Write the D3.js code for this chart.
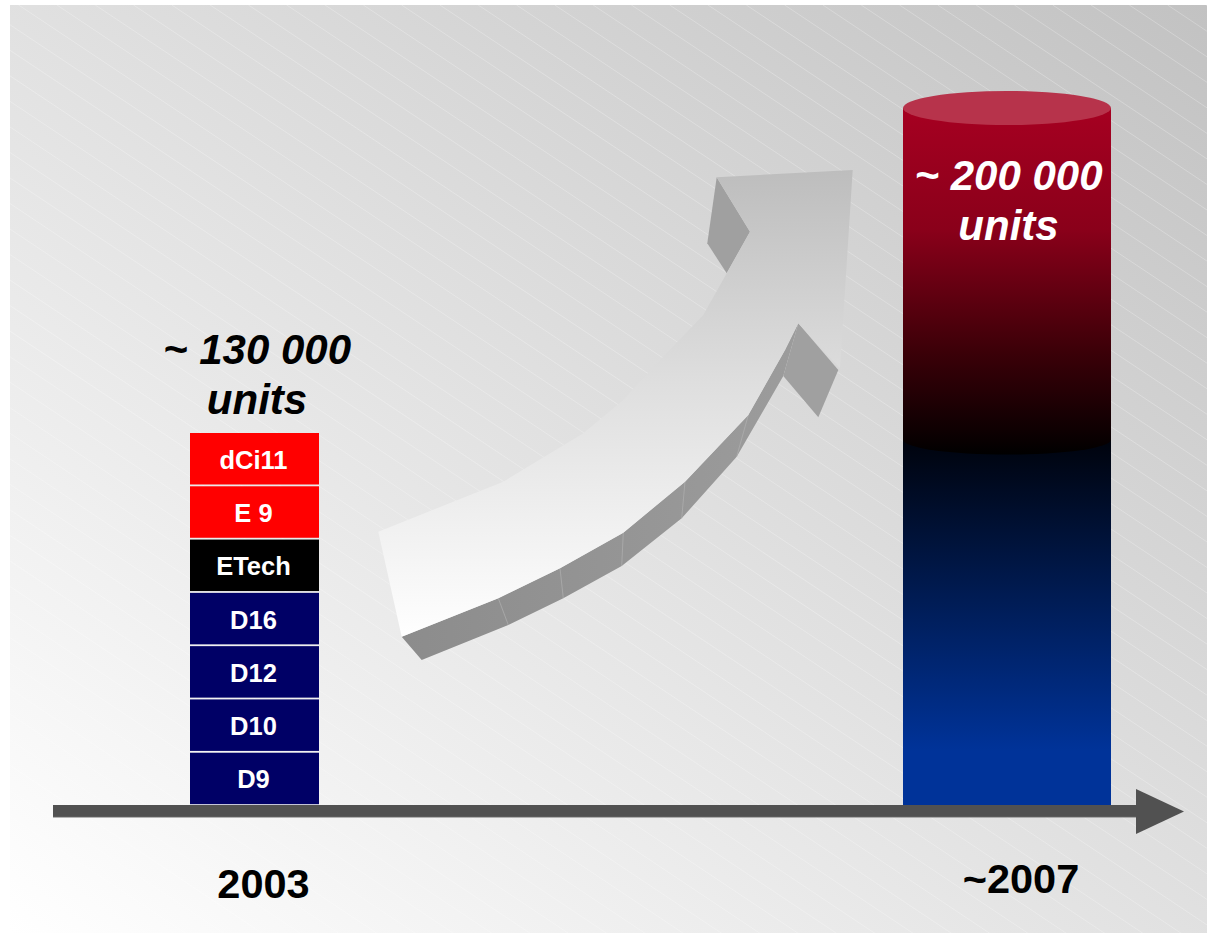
<!DOCTYPE html>
<html><head><meta charset="utf-8">
<script src="https://cdn.jsdelivr.net/npm/d3@7"></script>
<style>body{margin:0;background:#fff}svg{display:block}</style>
</head><body><svg id="c" width="1207" height="933"></svg>
<script>
// ---------- data ----------
const years = ["2003", "~2007"];
const segments2003 = ["D9", "D10", "D12", "D16", "ETech", "E 9", "dCi11"]; // bottom to top
const segmentColors = ["#000066", "#000066", "#000066", "#000066", "#000000", "#ff0000", "#ff0000"];
const totalLabels = ["~ 130 000", "~ 200 000"];
const unitLabel = "units";
const cylinderPartNames = ["base", "growth"];
const cylinderPartValues = [105000, 95000];
const cylinderTotal = 200000;

// ---------- setup ----------
const W = 1207, H = 933;
const svg = d3.select("#c");
const defs = svg.append("defs");
const FONT = "'Liberation Sans', Arial, sans-serif";

function linGrad(id, x1, y1, x2, y2, stops, user) {
  const g = defs.append("linearGradient").attr("id", id)
    .attr("x1", x1).attr("y1", y1).attr("x2", x2).attr("y2", y2);
  if (user) g.attr("gradientUnits", "userSpaceOnUse");
  stops.forEach(s => g.append("stop").attr("offset", s[0]).attr("stop-color", s[1]));
}
linGrad("bg", 0, 1, 1, 0, [[0, "#ffffff"], [1, "#c2c2c2"]]);
linGrad("red", 0, 108, 0, 455, [[0, "#a60021"], [0.35, "#8a001a"], [0.7, "#3c0008"], [1, "#000000"]], true);
linGrad("blue", 0, 439, 0, 806, [[0, "#00030c"], [0.85, "#003399"], [1, "#003399"]], true);
linGrad("arrowTop", 0, 170, 0, 640, [[0, "#bdbdbd"], [0.45, "#dedede"], [1, "#ffffff"]], true);
linGrad("arrowSide", 400, 0, 800, 0, [[0, "#8c8c8c"], [1, "#9c9c9c"]], true);

// background panel
const panel = {x: 10, y: 5, w: W - 10, h: H - 5};
defs.append("clipPath").attr("id", "panelClip").append("rect")
  .attr("x", panel.x).attr("y", panel.y).attr("width", panel.w).attr("height", panel.h);
svg.append("rect").attr("x", panel.x).attr("y", panel.y).attr("width", panel.w).attr("height", panel.h)
  .attr("fill", "url(#bg)");
const stripes = svg.append("g").attr("clip-path", "url(#panelClip)");
const slope = 2 / 3;
for (let x0 = panel.x - 1600; x0 < W; x0 += 38.3) {
  stripes.append("line").attr("x1", x0).attr("y1", panel.y)
    .attr("x2", x0 + 1500).attr("y2", panel.y + 1500 * slope)
    .attr("stroke", "#ffffff").attr("stroke-opacity", 0.25).attr("stroke-width", 1);
}

// scales
const x = d3.scalePoint().domain(years).range([254.5, 1007]);
const yStack = d3.scaleLinear().domain([0, segments2003.length]).range([806, 433]);
const yCyl = d3.scaleLinear().domain([0, cylinderTotal]).range([806, 108]);

// ---------- 3D curved arrow (decoration) ----------
const arrow = svg.append("g");
const topFace = [[378.3,531.7],[503.3,481.7],[583.3,433.3],[623.3,400],[660,360],[703.3,315],[726.7,273.3],
  [750,231.7],[716.7,177.3],[852.7,170],[840,368.3],[798.3,323.3],[785,350],[748.3,415],[685,481.7],
  [623.3,532.7],[560,568.3],[498.3,598.3],[401.7,636.7]];
const sideFace = [[798.3,323.3],[785,350],[748.3,415],[685,481.7],[623.3,532.7],[560,568.3],[498.3,598.3],
  [401.7,636.7],[421.7,660],[508.3,625],[563.3,598.3],[621.7,566],[681.7,518.3],[736.7,456.7],[783.3,376]];
const barbR = [[798.3,323.3],[838.3,370],[818.3,417.3],[783.3,376]];
const barbL = [[716.7,177.3],[750,231.7],[726.7,273.3],[707.3,243.3]];
const dividers = [[[498.3,598.3],[508.3,625]],[[560,568.3],[563.3,598.3]],[[623.3,532.7],[621.7,566]],
  [[685,481.7],[681.7,518.3]],[[748.3,415],[736.7,456.7]]];
const poly = d3.line().curve(d3.curveLinearClosed);
arrow.append("path").attr("d", poly(sideFace)).attr("fill", "url(#arrowSide)");
arrow.append("path").attr("d", poly(barbR)).attr("fill", "#a0a0a0");
arrow.append("path").attr("d", poly(barbL)).attr("fill", "#a0a0a0");
dividers.forEach(d => arrow.append("line").attr("x1", d[0][0]).attr("y1", d[0][1])
  .attr("x2", d[1][0]).attr("y2", d[1][1]).attr("stroke", "#b0b0b0").attr("stroke-width", 0.7));
arrow.append("path").attr("d", poly(topFace)).attr("fill", "url(#arrowTop)");

// ---------- 2003 stacked bar ----------
const barW = 129;
const band = yStack(0) - yStack(1);
const stack = svg.append("g");
segments2003.forEach((name, i) => {
  stack.append("rect")
    .attr("x", x("2003") - barW / 2).attr("y", yStack(i + 1))
    .attr("width", barW).attr("height", band - 1.8)
    .attr("fill", segmentColors[i]);
  stack.append("text")
    .attr("x", x("2003") - 1).attr("y", yStack(i + 1) + band / 2 + 9)
    .attr("text-anchor", "middle").attr("fill", "#ffffff")
    .attr("font-family", FONT).attr("font-weight", "bold").attr("font-size", 25.5)
    .text(name);
});

// ---------- ~2007 cylinder ----------
const cx = x("~2007"), rx = 104, ryTop = 17, ryMid = 15;
const cyl = svg.append("g");
const splitY = yCyl(cylinderPartValues[0]);
const topY = yCyl(cylinderPartValues[0] + cylinderPartValues[1]);
cyl.append("rect").attr("x", cx - rx).attr("y", splitY).attr("width", rx * 2)
  .attr("height", yCyl(0) - splitY).attr("fill", "url(#blue)");
cyl.append("path")
  .attr("d", `M${cx - rx},${topY} L${cx + rx},${topY} L${cx + rx},${splitY} A${rx},${ryMid} 0 0 1 ${cx - rx},${splitY} Z`)
  .attr("fill", "url(#red)");
cyl.append("ellipse").attr("cx", cx).attr("cy", topY).attr("rx", rx).attr("ry", ryTop)
  .attr("fill", "#b7334b");

// ---------- axis ----------
const axisG = svg.append("g");
axisG.append("rect").attr("x", 53).attr("y", 805).attr("width", 1086).attr("height", 12).attr("fill", "#515151");
axisG.append("line").attr("x1", 53).attr("x2", 1137).attr("y1", 817.3).attr("y2", 817.3)
  .attr("stroke", "#8a8a8a").attr("stroke-width", 0.8);
axisG.append("path").attr("d", "M1136,789 L1184,811.5 L1136,834 Z").attr("fill", "#515151");

// ---------- labels ----------
const yearOffsets = [9, 14], yearBaselines = [898, 893];
years.forEach((yr, i) => {
  svg.append("text").attr("x", x(yr) + yearOffsets[i]).attr("y", yearBaselines[i])
    .attr("text-anchor", "middle").attr("font-family", FONT).attr("font-weight", "bold")
    .attr("font-size", 41.5).attr("fill", "#000").text(yr);
});
const totalPos = [{dx: 2.5, y1: 364, y2: 413.5, fill: "#000000"}, {dx: 1.5, y1: 190, y2: 240, fill: "#ffffff"}];
years.forEach((yr, i) => {
  const p = totalPos[i];
  const t = svg.append("text").attr("text-anchor", "middle").attr("font-family", FONT)
    .attr("font-weight", "bold").attr("font-style", "italic").attr("font-size", 42).attr("fill", p.fill);
  t.append("tspan").attr("x", x(yr) + p.dx).attr("y", p.y1).text(totalLabels[i]);
  t.append("tspan").attr("x", x(yr) + p.dx).attr("y", p.y2).text(unitLabel);
});
</script></body></html>
